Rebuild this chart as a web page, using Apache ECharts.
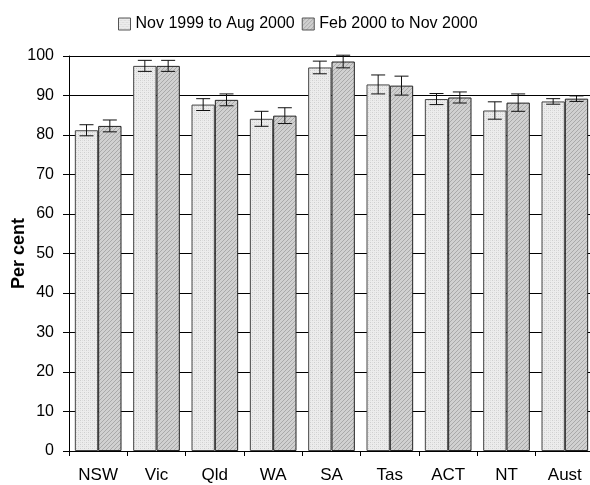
<!DOCTYPE html>
<html>
<head>
<meta charset="utf-8">
<script src="https://cdn.jsdelivr.net/npm/echarts@6/dist/echarts.min.js"></script>
<style>html,body{margin:0;padding:0;background:#fff;overflow:hidden}#c{width:590px;height:485px}</style>
</head>
<body>
<div id="c"></div>
<script>
var categories = ['NSW','Vic','Qld','WA','SA','Tas','ACT','NT','Aust'];
var seriesNames = ['Nov 1999 to Aug 2000','Feb 2000 to Nov 2000'];
var values1 = [81.2, 97.5, 87.7, 84.1, 97.1, 92.8, 89.1, 86.2, 88.5];
var values2 = [82.3, 97.5, 88.9, 84.9, 98.6, 92.5, 89.5, 88.2, 89.2];
var errors1 = [1.4, 1.4, 1.5, 1.9, 1.6, 2.4, 1.4, 2.2, 0.7];
var errors2 = [1.5, 1.4, 1.5, 2.0, 1.6, 2.4, 1.4, 2.2, 0.7];
var yTicks = [0,10,20,30,40,50,60,70,80,90,100];

var FONT = 'Liberation Sans, Arial, sans-serif';

function makePattern(kind){
  var c = document.createElement('canvas');
  c.width = 4; c.height = 4;
  var g = c.getContext('2d');
  if (kind === 1){
    g.fillStyle = '#ececec'; g.fillRect(0,0,4,4);
    g.fillStyle = '#cfcfcf';
    g.fillRect(0,0,1,1); g.fillRect(2,2,1,1);
    g.fillStyle = '#dedede';
    g.fillRect(2,0,1,1); g.fillRect(0,2,1,1);
  } else {
    g.fillStyle = '#d0d0d0'; g.fillRect(0,0,4,4);
    g.fillStyle = '#a9a9a9';
    g.fillRect(3,0,1,1); g.fillRect(2,1,1,1); g.fillRect(1,2,1,1); g.fillRect(0,3,1,1);
  }
  return {image: c, repeat: 'repeat'};
}
var pat1 = makePattern(1), pat2 = makePattern(2);
var CAT_GAP = 0.2;

function errSeries(vals, errs, idx){
  return {
    type: 'custom',
    name: 'err' + idx,
    silent: true,
    z: 5,
    data: vals.map(function(v,i){ return [i, v - errs[i], v + errs[i]]; }),
    renderItem: function(params, api){
      var band = api.size([1,0])[0];
      var bw = band * (1 - CAT_GAP) / 2;
      var c = api.coord([api.value(0), 0])[0];
      var x = idx === 0 ? c - bw/2 : c + bw/2;
      var lo = api.coord([api.value(0), api.value(1)])[1];
      var hi = api.coord([api.value(0), api.value(2)])[1];
      var cap = 7;
      var st = {stroke: '#111', lineWidth: 1};
      return {type: 'group', children: [
        {type:'line', shape:{x1:x, y1:lo, x2:x, y2:hi}, style: st},
        {type:'line', shape:{x1:x-cap, y1:lo, x2:x+cap, y2:lo}, style: st},
        {type:'line', shape:{x1:x-cap, y1:hi, x2:x+cap, y2:hi}, style: st}
      ]};
    },
    encode: {x: 0, y: [1,2]}
  };
}

var chart = echarts.init(document.getElementById('c'));
chart.setOption({
  animation: false,
  textStyle: {fontFamily: FONT},
  legend: {
    top: 11, left: 113,
    itemWidth: 12, itemHeight: 12, itemGap: 7,
    textStyle: {fontSize: 16, color: '#000', fontFamily: FONT},
    data: [
      {name: seriesNames[0], icon: 'rect', itemStyle: {color: pat1, borderColor: '#555', borderWidth: 1}},
      {name: seriesNames[1], icon: 'rect', itemStyle: {color: pat2, borderColor: '#555', borderWidth: 1}}
    ]
  },
  grid: {left: 69, width: 525, top: 56, bottom: 34, containLabel: false, outerBoundsMode: 'none'},
  xAxis: {
    type: 'category',
    data: categories,
    axisLine: {lineStyle: {color: '#000', width: 1}},
    axisTick: {show: true, alignWithLabel: false, length: 5, lineStyle: {color: '#000'}},
    axisLabel: {fontSize: 17, color: '#000', margin: 16, fontFamily: FONT}
  },
  yAxis: {
    type: 'value',
    min: 0, max: 100, interval: 10,
    name: 'Per cent',
    nameLocation: 'middle',
    nameGap: 41,
    nameMoveOverlap: false,
    nameTextStyle: {fontSize: 18, fontWeight: 'bold', color: '#000', fontFamily: FONT},
    axisLine: {show: true, lineStyle: {color: '#000', width: 1}},
    axisTick: {show: true, length: 6, lineStyle: {color: '#000'}},
    axisLabel: {fontSize: 16, color: '#000', margin: 15, fontFamily: FONT,
      formatter: function(v){ return yTicks.indexOf(v) >= 0 ? String(v) : ''; }},
    splitLine: {show: true, lineStyle: {color: '#000', width: 1}}
  },
  series: [
    {type: 'bar', name: seriesNames[0], data: values1, barGap: '0%', barCategoryGap: (CAT_GAP*100)+'%',
     itemStyle: {color: pat1, borderColor: '#444', borderWidth: 1}, z: 3},
    {type: 'bar', name: seriesNames[1], data: values2, barGap: '0%', barCategoryGap: (CAT_GAP*100)+'%',
     itemStyle: {color: pat2, borderColor: '#222', borderWidth: 1}, z: 3},
    errSeries(values1, errors1, 0),
    errSeries(values2, errors2, 1)
  ]
});
</script>
</body>
</html>
